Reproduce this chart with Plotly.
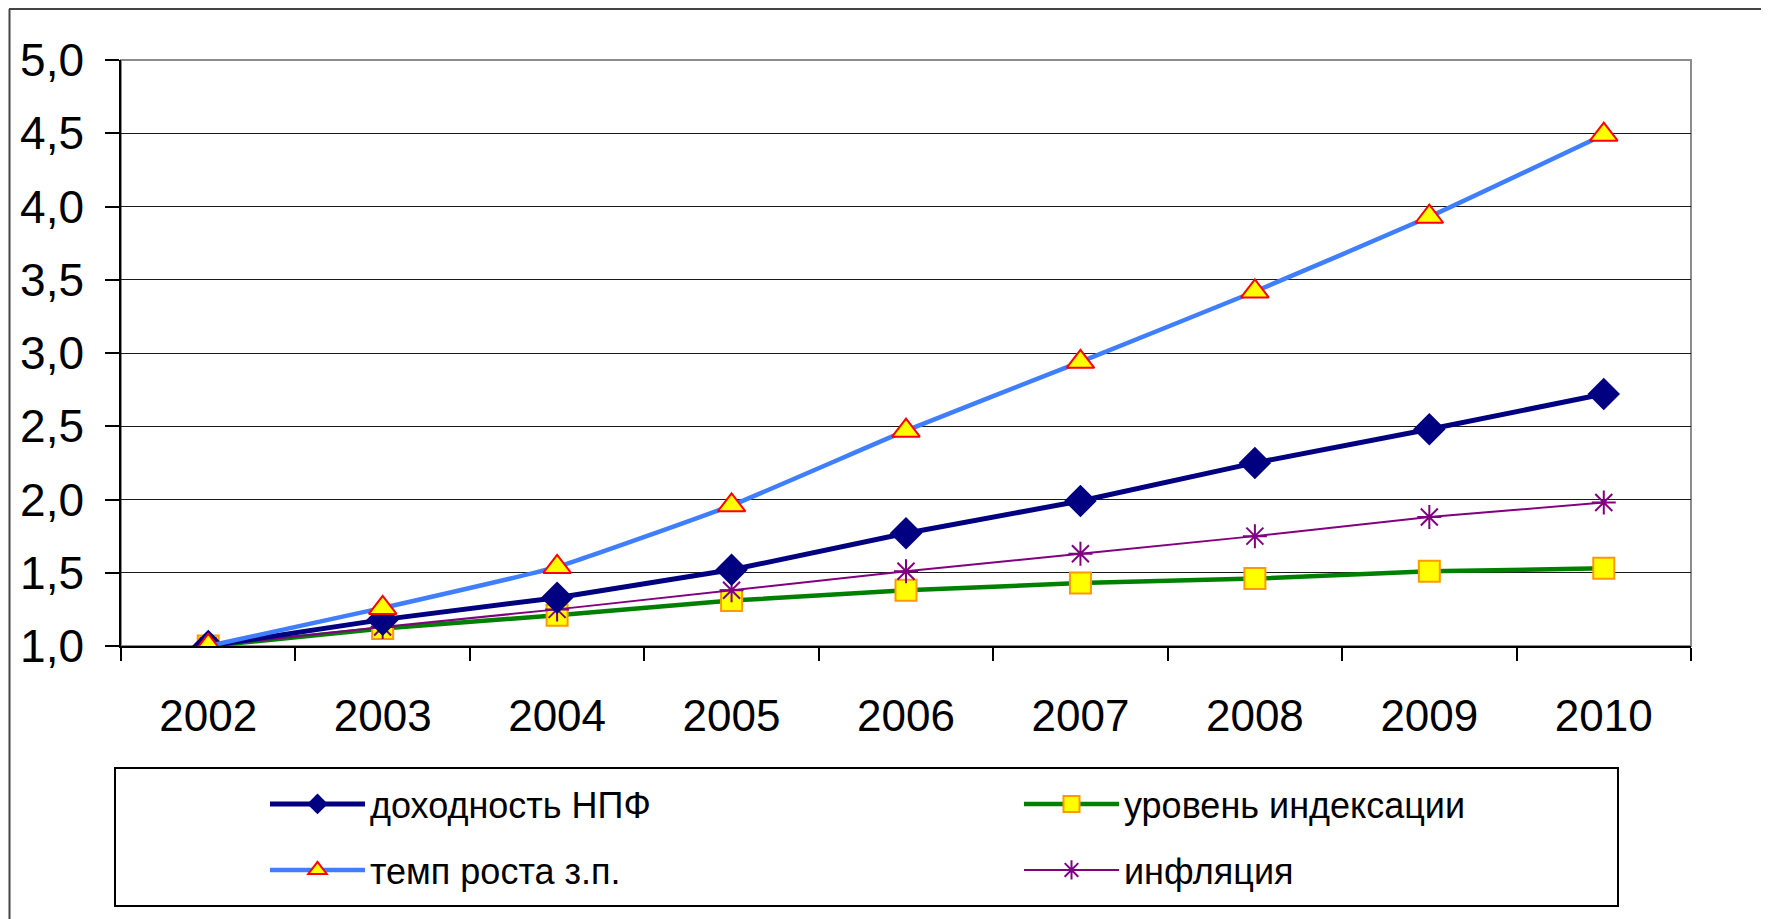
import plotly.graph_objects as go

years = ["2002", "2003", "2004", "2005", "2006", "2007", "2008", "2009", "2010"]
npf = [1.00, 1.18, 1.33, 1.52, 1.77, 1.99, 2.25, 2.48, 2.72]
wage = [1.00, 1.26, 1.54, 1.96, 2.47, 2.94, 3.42, 3.93, 4.49]
indexation = [1.00, 1.12, 1.21, 1.31, 1.38, 1.43, 1.46, 1.51, 1.53]
inflation = [1.00, 1.13, 1.25, 1.38, 1.51, 1.63, 1.75, 1.88, 1.98]

names = ["доходность НПФ", "уровень индексации", "темп роста з.п.", "инфляция"]
y_ticks = [1.0, 1.5, 2.0, 2.5, 3.0, 3.5, 4.0, 4.5, 5.0]

# page offset (body margin) and figure size
OFF = 8
W, H = 1769 - OFF, 919 - OFF
# plot area in screen pixels
SL, SR, ST, SB = 121, 1691, 60, 646
ML, MT = SL - OFF, ST - OFF
MR, MB = W - (SR - OFF), H - (SB - OFF)
PW, PH = SR - SL, SB - ST


def px_x(p):
    return (p - SL) / PW


def px_y(p):
    return (SB - p) / PH


fig = go.Figure()

fig.add_trace(go.Scatter(
    x=years, y=indexation, name=names[1], mode="lines+markers",
    line=dict(color="#008000", width=4.5),
    marker=dict(symbol="square", size=21, color="#FFFF00",
                line=dict(color="#FF9900", width=2)),
    legend="legend2"))
fig.add_trace(go.Scatter(
    x=years, y=inflation, name=names[3], mode="lines+markers",
    line=dict(color="#800080", width=2),
    marker=dict(symbol="asterisk-open", size=20, color="#800080",
                line=dict(color="#800080", width=2)),
    legend="legend4"))
fig.add_trace(go.Scatter(
    x=years, y=npf, name=names[0], mode="lines+markers",
    line=dict(color="#000080", width=5),
    marker=dict(symbol="diamond", size=25, color="#000080",
                line=dict(color="#000080", width=0)),
    legend="legend"))
fig.add_trace(go.Scatter(
    x=years, y=wage, name=names[2], mode="lines+markers",
    line=dict(color="#3F7FFF", width=4.5, shape="spline", smoothing=0.4),
    marker=dict(symbol="triangle-up", size=24, color="#FFFF00",
                line=dict(color="#FF0000", width=2)),
    legend="legend3"))

leg_font = dict(family="Arial", size=36, color="#000000")
col1_x = px_x(265)
col2_x = px_x(1019)
row1_y = px_y(804)
row2_y = px_y(870)


def leg(x, y):
    return dict(x=x, y=y, xanchor="left", yanchor="middle", xref="paper", yref="paper",
                bgcolor="rgba(0,0,0,0)", borderwidth=0, itemwidth=95,
                font=leg_font, orientation="v")


fig.update_layout(
    width=W, height=H,
    margin=dict(l=ML, r=MR, t=MT, b=MB, pad=0),
    paper_bgcolor="#FFFFFF", plot_bgcolor="#FFFFFF",
    separators=", ",
    font=dict(family="Arial", color="#000000"),
    showlegend=True,
    legend=leg(col1_x, row1_y),
    legend2=leg(col2_x, row1_y),
    legend3=leg(col1_x, row2_y),
    legend4=leg(col2_x, row2_y),
    xaxis=dict(
        type="category", categoryorder="array", categoryarray=years,
        range=[-0.5, len(years) - 0.5],
        showgrid=False, showline=True, linecolor="#000000", linewidth=1.5,
        ticks="outside", tickson="boundaries", ticklen=13, tickwidth=1.5, tickcolor="#000000",
        tickfont=dict(family="Arial", size=44, color="#000000"),
        ticklabelstandoff=30,
    ),
    yaxis=dict(
        range=[1, 5], tickvals=y_ticks, tickformat=".1f",
        showgrid=True, gridcolor="#1a1a1a", gridwidth=1.2,
        showline=True, linecolor="#000000", linewidth=1.5,
        ticks="outside", ticklen=14, tickwidth=1.5, tickcolor="#000000",
        tickfont=dict(family="Arial", size=46, color="#000000"),
        ticklabelstandoff=12,
        zeroline=False,
    ),
    shapes=[
        dict(type="rect", xref="paper", yref="paper", x0=0, x1=1, y0=0, y1=1,
             line=dict(color="#8c8c8c", width=2), layer="between"),
        # outer frame: top and left edges
        dict(type="line", xref="paper", yref="paper",
             x0=px_x(9), x1=px_x(1780), y0=px_y(9), y1=px_y(9),
             line=dict(color="#444444", width=2), layer="above"),
        dict(type="line", xref="paper", yref="paper",
             x0=px_x(9.5), x1=px_x(9.5), y0=px_y(9), y1=px_y(940),
             line=dict(color="#444444", width=2), layer="above"),
        # legend frame
        dict(type="rect", xref="paper", yref="paper",
             x0=px_x(115), x1=px_x(1618), y0=px_y(768), y1=px_y(906),
             line=dict(color="#000000", width=2), layer="above"),
    ],
)

fig.write_html("out.html")
